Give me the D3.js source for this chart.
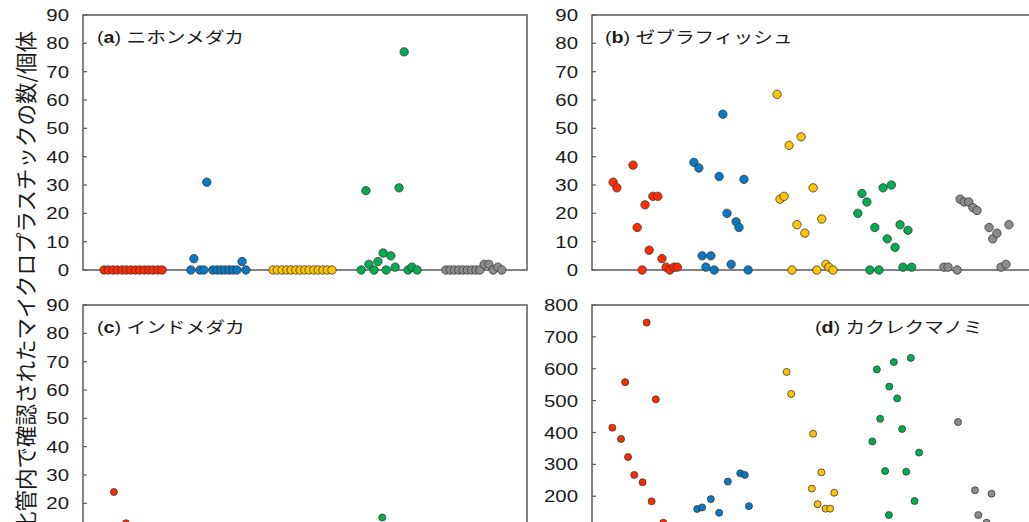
<!DOCTYPE html>
<html>
<head>
<meta charset="utf-8">
<script src="https://cdn.jsdelivr.net/npm/d3@7"></script>
<style>
body { margin: 0; background: #fff; }
text { font-family: "Liberation Sans", Arial, "Noto Sans CJK JP", sans-serif; fill: #1a1a1a; }
</style>
</head>
<body>
<div id="chart"></div>
<script>
// colours of the 5 groups, left to right in every panel
var groupColors = ["#ff2a00", "#0a78c2", "#ffc400", "#00ad50", "#8c8c8c"];

// (a) ニホンメダカ  - count per fish, and where the fish sits inside its group (slot 0..20)
var valuesA = [
  [0,0,0,0,0,0,0,0,0,0,0,0,0,0],
  [0,4,0,0,31,0,0,0,0,0,0,0,3,0],
  [0,0,0,0,0,0,0,0,0,0,0,0,0,0],
  [0,28,2,0,3,6,0,5,1,29,77,0,1,0],
  [0,0,0,0,0,0,0,0,0,2,2,0,1,0]
];
var slotsA = [
  [2.8,3.8,4.9,5.9,7.0,8.0,9.0,10.1,11.1,12.2,13.2,14.2,15.3,16.3],
  [3.0,3.7,5.1,6.0,6.7,8.1,9.1,10.0,10.9,11.9,12.8,13.7,14.9,15.8],
  [2.1,3.1,4.2,5.3,6.3,7.4,8.4,9.5,10.5,11.6,12.6,13.7,14.7,15.8],
  [2.6,3.7,4.4,5.6,6.5,7.7,8.4,9.5,10.5,11.4,12.6,13.5,14.4,15.6],
  [2.3,3.3,4.3,5.3,6.3,7.3,8.3,9.3,10.2,11.2,12.3,13.3,14.4,15.3]
];

// (b) ゼブラフィッシュ
var valuesB = [
  [31,29,37,15,0,23,7,26,26,4,1,0,1,1],
  [38,36,5,1,5,0,33,55,20,2,17,15,32,0],
  [62,25,26,44,0,16,47,13,29,0,18,2,1,0],
  [20,27,24,0,15,0,29,11,30,8,16,1,14,1],
  [1,1,0,25,24,24,22,21,15,11,13,1,2,16]
];
var slotsB = [
  [1.8,2.7,6.6,7.6,8.8,9.5,10.5,11.4,12.6,13.6,14.6,15.5,16.5,17.3],
  [1.3,2.5,3.3,4.2,5.4,6.2,7.4,8.3,9.3,10.3,11.5,12.2,13.4,14.4],
  [1.4,2.1,3.1,4.3,5.0,6.2,7.2,8.1,10.1,11.0,12.2,13.2,13.9,14.9],
  [0.9,1.9,3.1,3.8,5.0,6.0,7.0,8.0,9.0,9.9,11.1,11.8,13.0,13.9],
  [1.7,2.7,4.9,5.6,6.6,7.7,8.7,9.7,12.6,13.5,14.5,15.5,16.7,17.4]
];

// (c) インドメダカ (only the part that is in view)
var valuesC = [[24,13],[],[],[15],[]];
var slotsC = [[5.1,7.9],[],[],[7.5],[]];

// (d) カクレクマノミ
var valuesD = [
  [415,380,558,323,267,244,745,184,504,117],
  [160,165,191,148,246,272,267,169],
  [590,521,224,396,175,275,161,161,211],
  [372,598,443,279,141,544,621,507,411,277,634,185,337],
  [433,219,141,117,208]
];
var slotsD = [
  [1.6,3.7,4.7,5.4,6.9,8.9,9.9,11.1,12.1,13.9],
  [2.1,3.3,5.4,7.4,9.5,12.5,13.6,14.6],
  [3.7,4.8,9.8,10.1,11.2,12.1,13.1,14.2,15.2],
  [4.4,5.5,6.3,7.5,8.4,8.5,9.6,10.4,11.6,12.6,13.7,14.6,15.7],
  [5.1,9.2,10.0,12.0,13.2]
];

var ticks90 = [0,10,20,30,40,50,60,70,80,90];
var ticks800 = [0,100,200,300,400,500,600,700,800];
var letters = ["a", "b", "c", "d"];
var names = ["ニホンメダカ", "ゼブラフィッシュ", "インドメダカ", "カクレクマノミ"];
var yLabel = "消化管内で確認されたマイクロプラスチックの数/個体";

var W = 1029, H = 522;

var svg = d3.select("#chart")
  .append("svg")
  .attr("width", W).attr("height", H);

// panel layout
var panels = [
  {x: 83,  y: 15,  w: 444, h: 255, max: 90,  ticks: ticks90,  pad: 9,    step: 4.3,  r: 4.2, vals: valuesA, slots: slotsA, tx: 97},
  {x: 592, y: 15,  w: 444, h: 255, max: 90,  ticks: ticks90,  pad: 13.7, step: 4.14, r: 4.2, vals: valuesB, slots: slotsB, tx: 605},
  {x: 83,  y: 305, w: 444, h: 255, max: 90,  ticks: ticks90,  pad: 9,    step: 4.3,  r: 3.5, vals: valuesC, slots: slotsC, tx: 97},
  {x: 592, y: 305, w: 444, h: 255, max: 800, ticks: ticks800, pad: 13.7, step: 4.14, r: 3.5, vals: valuesD, slots: slotsD, tx: 815}
];

panels.forEach(function(p, i) {
  var g = svg.append("g");

  var y = d3.scaleLinear().domain([0, p.max]).range([p.y + p.h, p.y]);
  var x = d3.scaleLinear().domain([0, 100]).range([p.x + p.pad, p.x + p.pad + p.step * 100]);

  // frame
  g.append("rect")
    .attr("x", p.x).attr("y", p.y)
    .attr("width", p.w).attr("height", p.h)
    .attr("fill", "none")
    .attr("stroke", "#5a5a5a")
    .attr("stroke-width", 1.5);

  // ticks (inside) and labels
  g.selectAll(".tk")
    .data(p.ticks)
    .enter().append("line")
    .attr("x1", p.x).attr("x2", p.x + 4)
    .attr("y1", function(d) { return y(d); })
    .attr("y2", function(d) { return y(d); })
    .attr("stroke", "#5a5a5a")
    .attr("stroke-width", 1.2);

  // labels that would fall below the picture are left out
  g.selectAll(".tl")
    .data(p.ticks.filter(function(d) { return y(d) < H - 8; }))
    .enter().append("text")
    .attr("transform", function(d) { return "translate(" + (p.x - 14) + "," + (y(d) + 6) + ") scale(1.2,1)"; })
    .attr("text-anchor", "end")
    .style("font-size", "17px")
    .text(function(d) { return d; });

  // title
  var t = g.append("text")
    .attr("transform", "translate(" + p.tx + "," + (p.y + 27.5) + ") scale(1.2,1)")
    .style("font-size", "16.4px");
  t.append("tspan").text("(");
  t.append("tspan").style("font-weight", "bold").text(letters[i]);
  t.append("tspan").text(") " + names[i]);

  // dots
  var pts = [];
  p.vals.forEach(function(vs, gi) {
    vs.forEach(function(v, k) {
      pts.push({g: gi, v: v, s: gi * 20 + p.slots[gi][k]});
    });
  });

  g.selectAll("circle")
    .data(pts)
    .enter().append("circle")
    .attr("cx", function(d) { return x(d.s); })
    .attr("cy", function(d) { return y(d.v); })
    .attr("r", p.r)
    .attr("fill", function(d) { return groupColors[d.g]; })
    .attr("stroke", "#3a3a3a")
    .attr("stroke-width", 0.8);
});

// shared y title
svg.append("text")
  .attr("transform", "translate(24,31) rotate(-90)")
  .attr("text-anchor", "end")
  .attr("dominant-baseline", "central")
  .style("font-family", "'Noto Sans CJK JP', sans-serif")
  .style("font-size", "21.5px")
  .text(yLabel);
</script>
</body>
</html>
